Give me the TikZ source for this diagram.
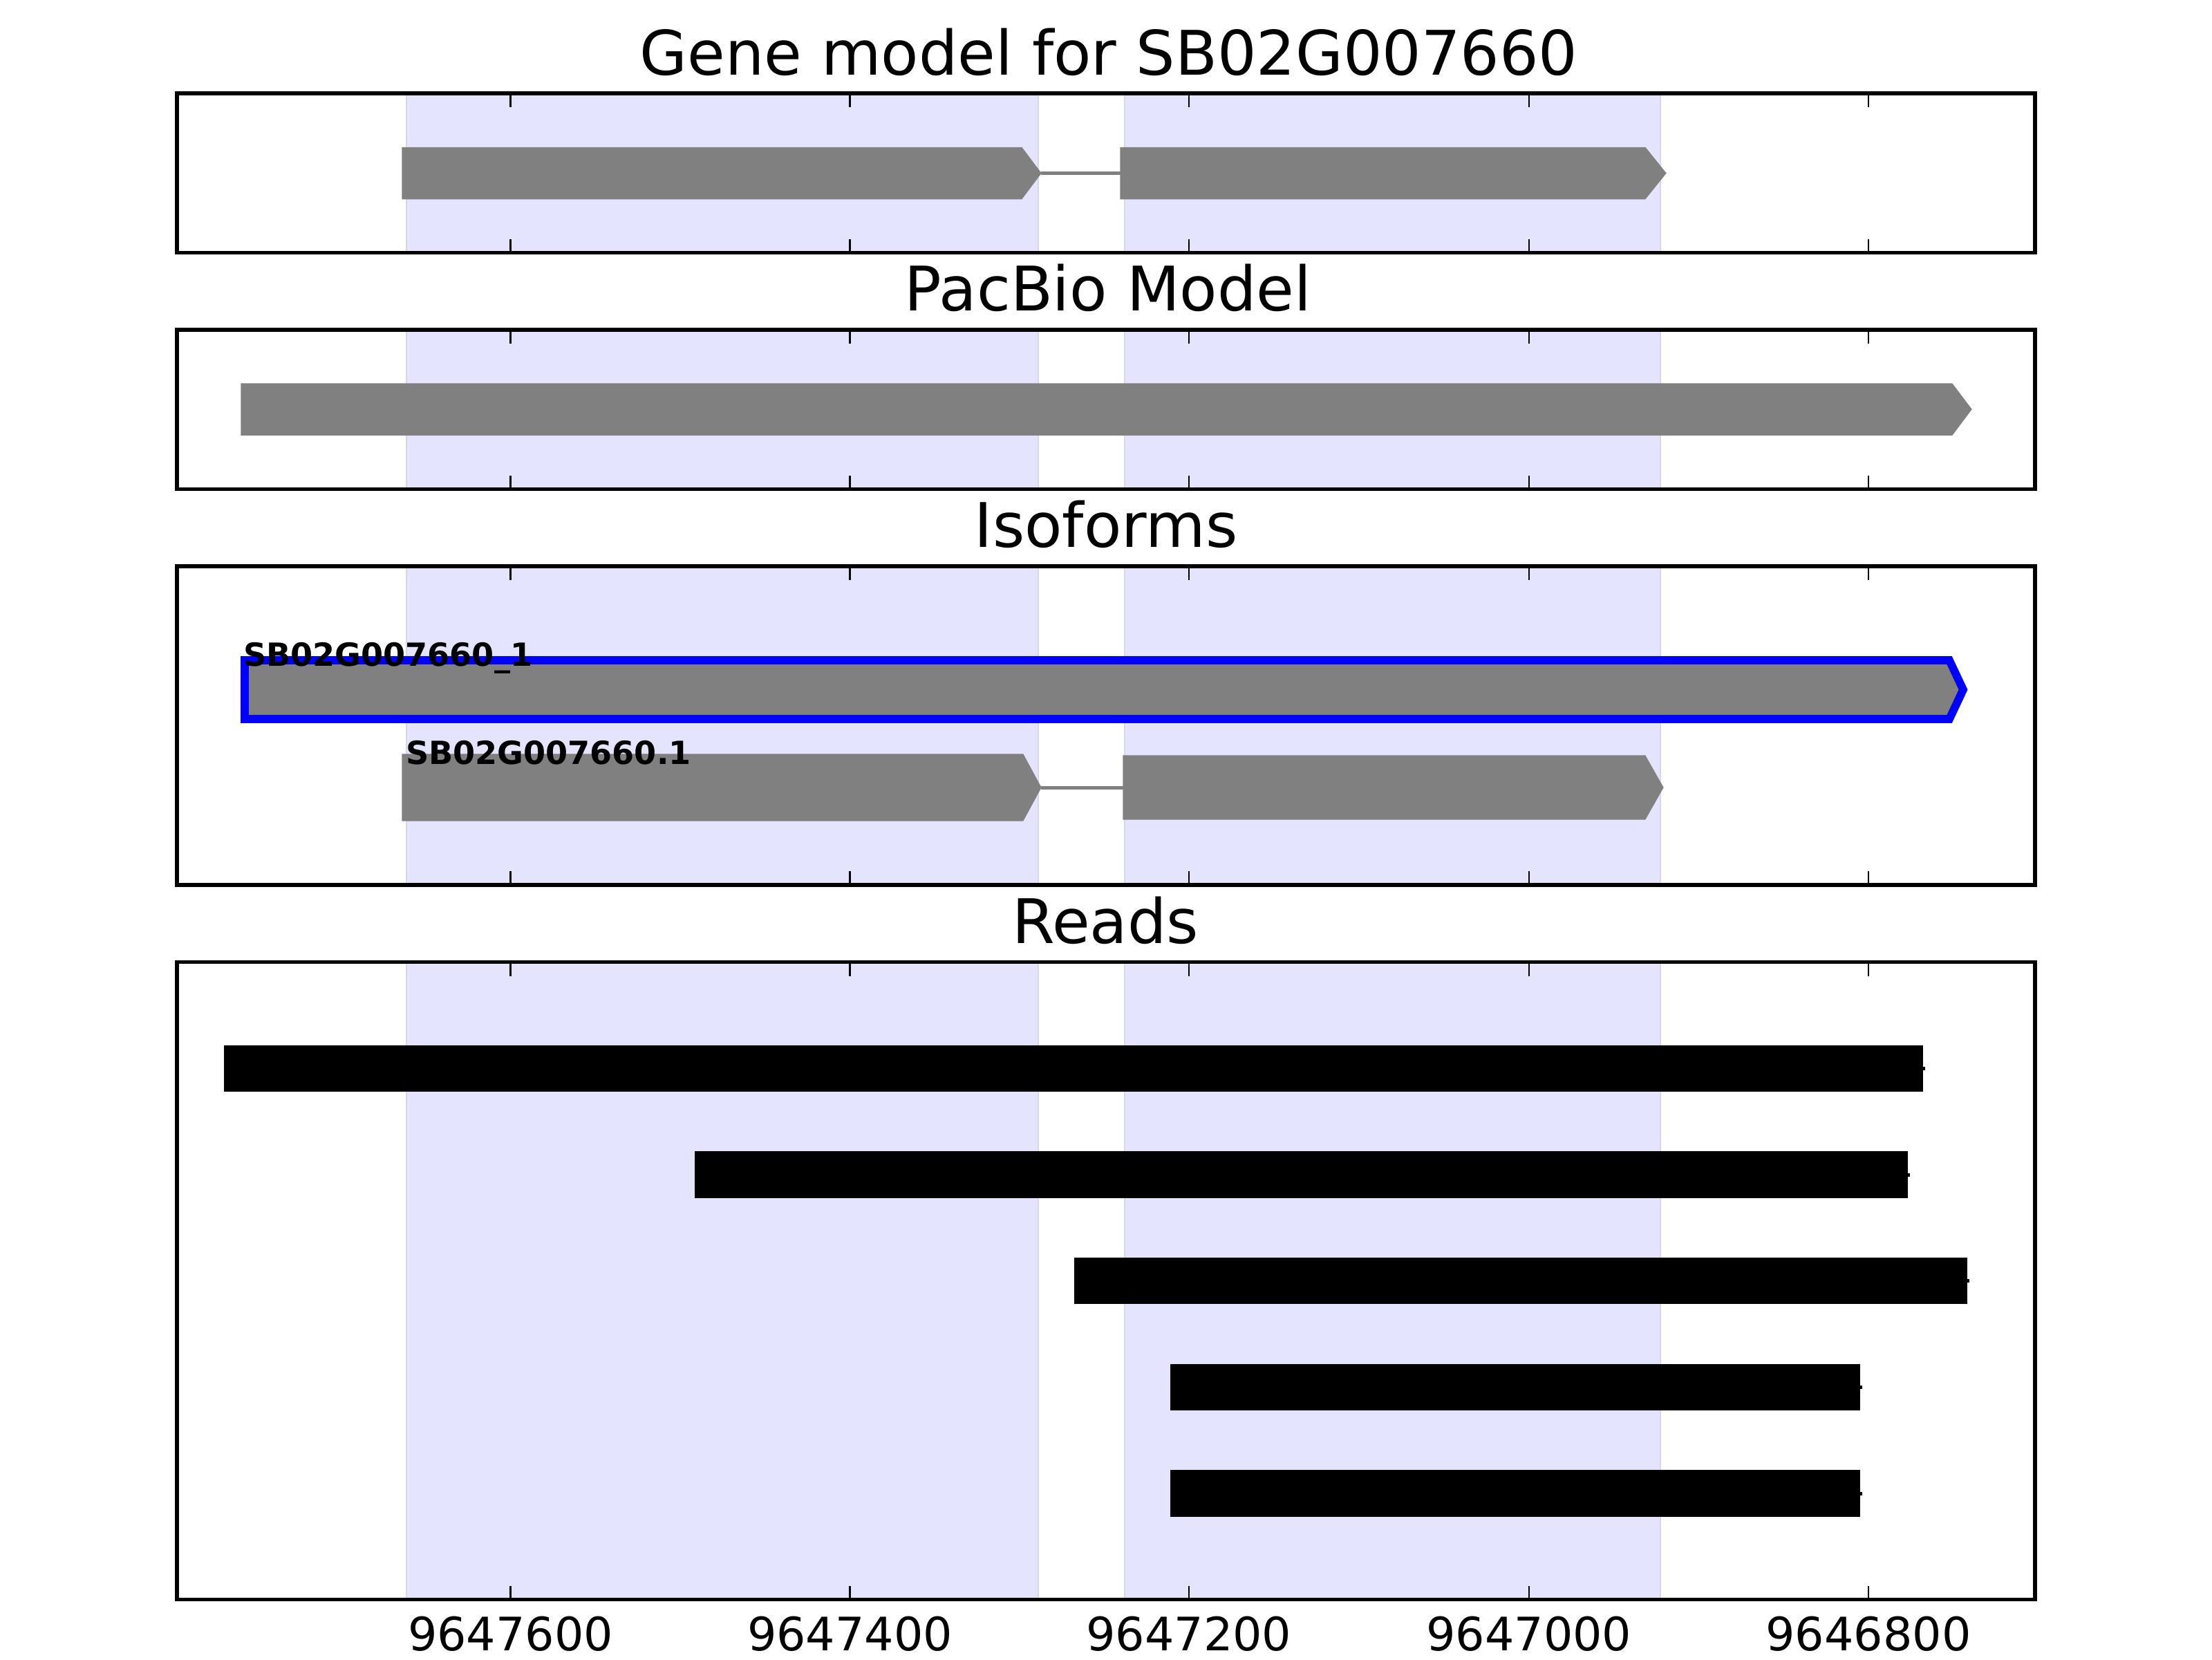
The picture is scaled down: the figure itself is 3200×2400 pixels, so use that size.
\documentclass[tikz,border=0pt]{standalone}
\usepackage{fontspec}
\setmainfont{DejaVu Sans}
\definecolor{shade}{RGB}{228,228,255}
\definecolor{shadeedge}{RGB}{214,214,238}
\definecolor{blockgray}{RGB}{128,128,128}
\definecolor{isoblue}{RGB}{0,0,255}
\begin{document}
\begin{tikzpicture}[x=0.18pt,y=-0.18pt,
  frame/.style={draw=black,line width=1pt},
  tickmark/.style={draw=black,line width=0.5pt},
  band/.style={fill=shade,draw=shadeedge,line width=0.35pt},
  block/.style={fill=blockgray,draw=blockgray,line width=0.2pt},
  intron/.style={draw=blockgray,line width=0.9pt},
  readbar/.style={fill=black,draw=black,line width=0.2pt},
  ptitle/.style={font=\fontsize{16}{19}\selectfont,anchor=base,inner sep=0pt},
  ticklabel/.style={font=\fontsize{12}{14}\selectfont,anchor=base,inner sep=0pt},
  isolabel/.style={font=\fontsize{8.3}{10}\selectfont\bfseries,anchor=base west,inner sep=0pt}]
\useasboundingbox (0,0) rectangle (3200,2400);
\fill[white] (0,0) rectangle (3200,2400);

% shaded exon bands in every panel
\foreach \t/\b in {135/365.5, 477/707.5, 819/1280, 1391.5/2313.5}{
  \filldraw[band] (588,\t) rectangle (1502,\b);
  \filldraw[band] (1627,\t) rectangle (2402,\b);
}

% titles
\node[ptitle] (title1) at (1604,108) {Gene model for SB02G007660};
\node[ptitle] (title2) at (1603,449.5) {PacBio Model};
\node[ptitle] (title3) at (1600,791.5) {Isoforms};
\node[ptitle] (title4) at (1599,1364.5) {Reads};

% Panel 1: gene model
\filldraw[block] (582,213.3) -- (1478,213.3) -- (1506,250.5) -- (1478,287.7) -- (582,287.7) -- cycle;
\draw[intron] (1506,250.5) -- (1622,250.5);
\filldraw[block] (1621,213.3) -- (2380,213.3) -- (2410,250.5) -- (2380,287.7) -- (1621,287.7) -- cycle;

% Panel 2: PacBio model
\filldraw[block] (349,555) -- (2824,555) -- (2852,592) -- (2824,629.3) -- (349,629.3) -- cycle;

% Panel 3: isoforms
\filldraw[fill=blockgray,draw=isoblue,line width=2.1pt,line join=miter]
  (354,955) -- (2820,955) -- (2840,997.5) -- (2820,1040) -- (354,1040) -- cycle;
\node[isolabel] (lab1) at (351,963) {SB02G007660\_1};
\filldraw[block] (582,1091) -- (1480,1091) -- (1506,1139) -- (1480,1187) -- (582,1187) -- cycle;
\draw[intron] (1506,1139) -- (1625,1139);
\filldraw[block] (1625,1093) -- (2380,1093) -- (2406,1139) -- (2380,1185) -- (1625,1185) -- cycle;
\node[isolabel] (lab2) at (586,1105) {SB02G007660.1};

% Panel 4: reads
\foreach \xl/\xr/\yc in {324.5/2781.7/1545.5, 1006/2759.7/1699, 1555/2845.7/1852.2, 1694/2690.3/2006.2, 1694/2690.3/2160}{
  \filldraw[readbar] (\xl,\yc-33) rectangle (\xr,\yc+33);
  \fill[black] (\xr,\yc-2.5) rectangle (\xr+3.5,\yc+2.5);
}

% ticks and frames
\foreach \t/\b in {135/365.5, 477/707.5, 819/1280, 1391.5/2313.5}{
  \foreach \x in {738.5,1229.5,1720,2212,2703}{
    \draw[tickmark] (\x,\t) -- (\x,\t+20);
    \draw[tickmark] (\x,\b) -- (\x,\b-20);
  }
  \draw[frame] (256,\t) rectangle (2944,\b);
}

% tick labels
\node[ticklabel] (tl1) at (738.5,2387) {9647600};
\node[ticklabel] (tl2) at (1229.5,2387) {9647400};
\node[ticklabel] (tl3) at (1720,2387) {9647200};
\node[ticklabel] (tl4) at (2212,2387) {9647000};
\node[ticklabel] (tl5) at (2703,2387) {9646800};
\end{tikzpicture}
\end{document}
